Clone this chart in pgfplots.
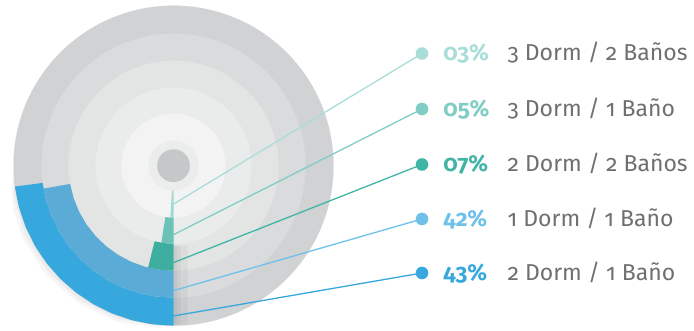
\documentclass[border=0pt]{standalone}
\usepackage{pgfplots}
\pgfplotsset{compat=1.18}
\usepgfplotslibrary{polar}
\usepackage{fontspec}
\setmainfont{Fira Sans}[Numbers=OldStyle]
\definecolor{ringA}{HTML}{D1D2D4}
\definecolor{ringB}{HTML}{DADBDC}
\definecolor{ringC}{HTML}{E3E4E4}
\definecolor{ringD}{HTML}{EAEBEB}
\definecolor{ringE}{HTML}{F3F3F3}
\definecolor{ringF}{HTML}{EBECEC}
\definecolor{hub}{HTML}{C6C7C8}
\definecolor{barA}{HTML}{37A8DD}
\definecolor{barB}{HTML}{5AABD6}
\definecolor{barC}{HTML}{3DAE9F}
\definecolor{barD}{HTML}{6DC2B7}
\definecolor{barE}{HTML}{A0D9D1}
\definecolor{lnA}{HTML}{36A8DE}
\definecolor{lnB}{HTML}{6EC1E9}
\definecolor{lnC}{HTML}{40B5A5}
\definecolor{lnD}{HTML}{7FCDC4}
\definecolor{lnE}{HTML}{A8DDD8}
\definecolor{lbl}{HTML}{6E6F71}
\begin{document}
\begin{tikzpicture}
\begin{axis}[x=1pt, y=1pt, xmin=-173.5, xmax=520.5, ymin=-165.3, ymax=165.7,
  hide axis, clip=false, clip marker paths=true]
\path (rel axis cs:0,0) (rel axis cs:1,1);
% soft shadow outside the outer bar
\addplot[data cs=polar, fill=black, fill opacity=0.035, draw=none] coordinates {
 (-95,163) (-110,166) (-125,167) (-140,168) (-155,167.5) (-165,166) (-173,163) (-177,160.5)
 (-177,150) (-95,150)};
\addplot[data cs=polar, fill=black, fill opacity=0.04, draw=none] coordinates {
 (-92,161) (-110,163) (-125,164) (-140,164.5) (-155,164) (-168,162.5) (-175,160.5)
 (-175,150) (-92,150)};
% concentric background discs
\addplot[ringA, only marks, mark=*, mark size=160pt, mark options={line width=0.1pt}] coordinates {(0,0)};
\addplot[ringB, only marks, mark=*, mark size=132pt, mark options={line width=0.1pt}] coordinates {(0,0)};
\addplot[ringC, only marks, mark=*, mark size=105pt, mark options={line width=0.1pt}] coordinates {(0,0)};
\addplot[ringD, only marks, mark=*, mark size=78pt, mark options={line width=0.1pt}] coordinates {(0,0)};
\addplot[ringE, only marks, mark=*, mark size=52pt, mark options={line width=0.1pt}] coordinates {(0,0)};
\addplot[ringF, only marks, mark=*, mark size=25pt, mark options={line width=0.1pt}] coordinates {(0,0)};
\addplot[hub, only marks, mark=*, mark size=16.3pt, mark options={line width=0.1pt}] coordinates {(0,0)};
% shade to the right of the bars
\addplot[fill=black, fill opacity=0.035, draw=none] coordinates {(0,-159) (14,-158.4) (14,-80) (0,-80)};
\addplot[fill=black, fill opacity=0.035, draw=none] coordinates {(0,-159) (7,-158.8) (7,-80) (0,-80)};
\addplot[fill=black, fill opacity=0.035, draw=none] coordinates {(0,-159.5) (3,-159.5) (3,-80) (0,-80)};
% 43% (outer ring)
\addplot[data cs=polar, fill=barA, draw=none] coordinates {
 (-90,160) (-97.5,160) (-105,160) (-112.5,160) (-120,160) (-127.5,160) (-135,160) (-142.5,160) (-150,160) (-157.5,160) (-165,160) (-172.5,160)
 (-172.5,132) (-165,132) (-157.5,132) (-150,132) (-142.5,132) (-135,132) (-127.5,132) (-120,132) (-112.5,132) (-105,132) (-97.5,132) (-90,132)};
% 42%
\addplot[data cs=polar, fill=barB, draw=none] coordinates {
 (-90,132) (-98,132) (-106,132) (-114,132) (-122,132) (-130,132) (-138,132) (-146,132) (-154,132) (-162,132) (-170,132)
 (-170,105) (-162,105) (-154,105) (-146,105) (-138,105) (-130,105) (-122,105) (-114,105) (-106,105) (-98,105) (-90,105)};
% 07%
\addplot[data cs=polar, fill=barC, draw=none] coordinates {
 (-90,105) (-97,105) (-104,105) (-104,78) (-97,78) (-90,78)};
% 05%
\addplot[data cs=polar, fill=barD, draw=none] coordinates {
 (-90,78) (-94.5,78) (-99,78) (-99,52) (-94.5,52) (-90,52)};
% 03%
\addplot[data cs=polar, fill=barE, draw=none] coordinates {
 (-90,52) (-93.5,52) (-93.5,25) (-90,25)};
% leader lines
\addplot[lnE, line width=1.3pt] coordinates {(-0.2,-38.5) (248.5,112.2)};
\addplot[lnD, line width=1.3pt] coordinates {(-1.0,-69.5) (248.5,56.7)};
\addplot[lnC, line width=1.3pt] coordinates {(-0.2,-97.0) (248.5,1.2)};
\addplot[lnB, line width=1.3pt] coordinates {(-0.2,-125.0) (248.5,-53.3)};
\addplot[lnA, line width=1.3pt] coordinates {(-0.2,-150.3) (248.5,-107.3)};
% dots
\addplot[lnE, only marks, mark=*, mark size=6.2pt, mark options={line width=0.1pt}] coordinates {(248.5,112.2)};
\addplot[lnD, only marks, mark=*, mark size=6.2pt, mark options={line width=0.1pt}] coordinates {(248.5,56.7)};
\addplot[lnC, only marks, mark=*, mark size=6.2pt, mark options={line width=0.1pt}] coordinates {(248.5,1.2)};
\addplot[lnB, only marks, mark=*, mark size=6.2pt, mark options={line width=0.1pt}] coordinates {(248.5,-53.3)};
\addplot[lnA, only marks, mark=*, mark size=6.2pt, mark options={line width=0.1pt}] coordinates {(248.5,-107.3)};
% texts
\begin{scope}[every node/.style={anchor=base west, inner sep=0pt, font=\fontsize{23}{27}\selectfont}]
\node[text=lnE] at (axis cs:269.7,104.7) {\bfseries 03\%};
\node[text=lnD] at (axis cs:269.7,49.2) {\bfseries 05\%};
\node[text=lnC] at (axis cs:269.7,-6.3) {\bfseries 07\%};
\node[text=lnB] at (axis cs:269.7,-60.8) {\bfseries 42\%};
\node[text=lnA] at (axis cs:269.7,-114.8) {\bfseries 43\%};
\node[text=lbl] at (axis cs:333.9,104.7) {3 Dorm / 2 Baños};
\node[text=lbl] at (axis cs:333.9,49.2) {3 Dorm / 1 Baño};
\node[text=lbl] at (axis cs:333.9,-6.3) {2 Dorm / 2 Baños};
\node[text=lbl] at (axis cs:333.9,-60.8) {1 Dorm / 1 Baño};
\node[text=lbl] at (axis cs:333.9,-114.8) {2 Dorm / 1 Baño};
\end{scope}
\end{axis}
\end{tikzpicture}
\end{document}
